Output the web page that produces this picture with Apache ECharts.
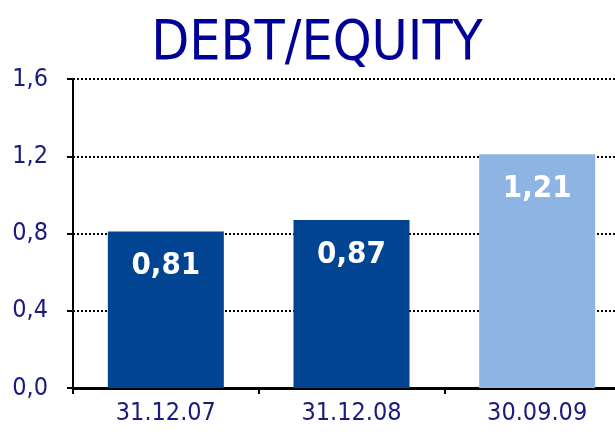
<!DOCTYPE html>
<html><head><meta charset="utf-8">
<script src="https://cdn.jsdelivr.net/npm/echarts@6/dist/echarts.min.js"></script>
<style>html,body{margin:0;padding:0;background:#fff}#c{width:615px;height:442px}</style>
</head><body><div id="c"></div>
<script>
var categories = ['31.12.07', '31.12.08', '30.09.09'];
var values = [0.81, 0.87, 1.21];
var barColors = ['#004492', '#004492', '#8DB4E2'];
var yTicks = [0, 0.4, 0.8, 1.2, 1.6];

var narrow = '"DejaVu Sans Condensed", sans-serif';
var chart = echarts.init(document.getElementById('c'));
chart.setOption({
  animation: false,
  title: {
    text: 'DEBT/EQUITY', left: 312, textAlign: 'center', top: 12,
    textStyle: { fontFamily: 'DejaVu Sans Condensed', fontSize: 55, fontWeight: 'normal', color: '#000096' }
  },
  grid: { left: 73, top: 79, height: 309, width: 557, outerBoundsMode: 'none', containLabel: false },
  xAxis: {
    type: 'category', data: categories,
    axisLine: { lineStyle: { color: '#000', width: 3 } },
    axisTick: { show: true, length: 6, lineStyle: { color: '#000', width: 2 } },
    axisLabel: { color: '#1a1a80', fontSize: 25, fontFamily: narrow, margin: 13 }
  },
  yAxis: {
    type: 'value', min: yTicks[0], max: yTicks[yTicks.length - 1], interval: 0.4,
    axisLine: { show: true, lineStyle: { color: '#000', width: 2 } },
    axisTick: { show: true, length: 6, lineStyle: { color: '#000', width: 2 } },
    axisLabel: { color: '#1a1a80', fontSize: 25, fontFamily: narrow, margin: 25,
      formatter: function (v) { return v.toFixed(1).replace('.', ','); } },
    splitLine: { show: true, lineStyle: { color: '#000', type: [2, 2], width: 2 } }
  },
  series: [{
    type: 'bar', barWidth: 116,
    data: values.map(function (v, i) { return { value: v, itemStyle: { color: barColors[i] } }; }),
    label: {
      show: true, position: 'insideTop', distance: 19, color: '#fff', fontSize: 31,
      fontFamily: narrow, fontWeight: 'bold',
      formatter: function (p) { return p.value.toFixed(2).replace('.', ','); }
    }
  }]
});
</script></body></html>
